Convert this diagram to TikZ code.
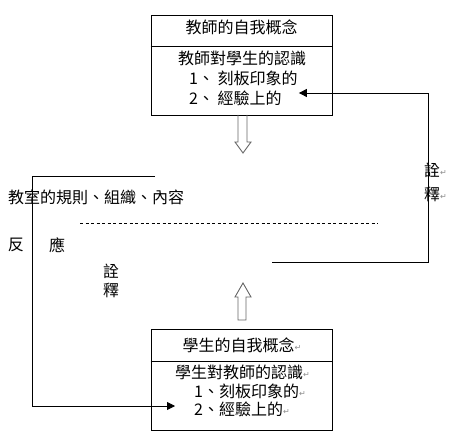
\documentclass[tikz,border=0pt]{standalone}
\usepackage{fontspec}
\setmainfont{Noto Sans CJK TC}
\newfontfamily\markfont{DejaVu Sans}
\usetikzlibrary{arrows.meta}

\newcommand{\pmark}{{\markfont\fontsize{8}{8}\selectfont\color{black!45}\raisebox{0.2ex}{↵}}}

\begin{document}
\begin{tikzpicture}[x=1pt,y=-1pt,
    txt/.style={inner sep=0pt,font=\fontsize{16}{16}\selectfont},
    box/.style={draw,line width=0.8pt,minimum width=181pt,inner sep=0pt},
    link/.style={line width=0.8pt,-{Triangle[length=8pt,width=8pt]}},
    hollow/.style={draw=black!60,line width=0.9pt}]
    \useasboundingbox (0,0) rectangle (468,438);
    % teacher box
    \node[box,minimum height=100pt] (tbox) at (241.5,65) {};
    \draw[line width=0.8pt] (tbox.west |- 0,46) -- (tbox.east |- 0,46);
    \node[txt] (thead) at (241.5,27) {教師的自我概念};
    \node[txt,anchor=west] (tl1) at (178,58) {教師對學生的認識};
    \node[txt,anchor=west] (tl2) at (189,78) {1、 刻板印象的};
    \node[txt,anchor=west] (tl3) at (189,98) {2、 經驗上的};
    % student box
    \node[box,minimum height=101pt] (sbox) at (241.5,379.5) {};
    \draw[line width=0.8pt] (sbox.west |- 0,361) -- (sbox.east |- 0,361);
    \node[txt] (shead) at (242,345) {學生的自我概念\pmark};
    \node[txt,anchor=west] (sl1) at (175,372) {學生對教師的認識\pmark};
    \node[txt,anchor=west] (sl2) at (194,391) {1、刻板印象的\pmark};
    \node[txt,anchor=west] (sl3) at (194,409) {2、經驗上的\pmark};
    % hollow arrows
    \draw[hollow] (238,115) -- (238,142) -- (235,142) -- (243,153) -- (251,142) -- (247,142) -- (247,115);
    \draw[hollow] (238,320) -- (238,297) -- (235,297) -- (243,283) -- (251,297) -- (246,297) -- (246,320) -- cycle;
    % middle texts
    \node[txt,anchor=west] (rules) at (8,197) {教室的規則、組織、內容};
    \node[txt] (fan) at (16,245) {反};
    \node[txt] (ying) at (57,245) {應};
    \node[txt] (quan1) at (111,271) {詮};
    \node[txt] (shi1) at (111,290) {釋};
    \draw[line width=0.7pt,dash pattern=on 3pt off 2.5pt] (80,223) -- (378,223);
    % right loop
    \coordinate (rstart) at (272,262);
    \draw[link,shorten >=17pt] (rstart) -- (428,262) |- ([yshift=5pt]tl3.east);
    \node[txt,anchor=west] (quan2) at (424,170) {詮\pmark};
    \node[txt,anchor=west] (shi2) at (424,194) {釋\pmark};
    % left loop
    \coordinate (lstart) at (155,176);
    \draw[link,shorten >=19pt] (lstart) -- (32,176) |- ([yshift=3pt]sl3.west);
\end{tikzpicture}
\end{document}
